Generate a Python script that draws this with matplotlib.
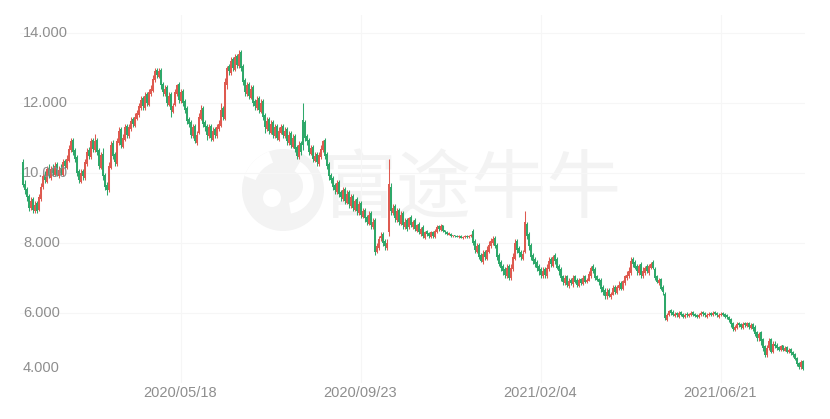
import matplotlib
matplotlib.use("Agg")
import matplotlib.pyplot as plt
import matplotlib.transforms as mtransforms
from matplotlib.patches import Circle, Wedge
import numpy as np

# ---------------- data ----------------
opens = [
    10.30, 9.70, 9.55, 9.35, 9.00, 9.25, 8.90, 9.15, 8.95, 9.25,
    9.60, 9.95, 9.75, 10.15, 9.85, 10.15, 9.95, 10.25, 9.90, 10.15,
    9.95, 10.35, 10.15, 10.35, 10.65, 10.95, 10.65, 10.45, 10.05, 9.75,
    10.05, 9.85, 10.25, 10.65, 10.45, 10.95, 10.65, 10.95, 10.65, 10.15,
    10.55, 9.95, 9.65, 9.50, 10.15, 10.85, 10.55, 10.25, 10.85, 11.25,
    10.75, 10.95, 11.35, 11.05, 11.25, 11.55, 11.35, 11.55, 11.65, 11.85,
    12.15, 11.85, 12.25, 11.95, 12.25, 12.35, 12.65, 12.95, 12.75, 12.95,
    12.55, 12.25, 12.45, 11.95, 12.25, 11.75, 11.95, 12.25, 12.55, 12.05,
    12.35, 12.05, 11.85, 11.55, 11.45, 11.05, 11.35, 10.85, 11.15, 11.55,
    11.85, 11.45, 11.35, 11.05, 11.35, 10.95, 11.25, 11.05, 11.25, 11.35,
    11.85, 11.55, 12.50, 13.05, 12.85, 13.25, 12.95, 13.35, 13.05, 13.45,
    13.05, 12.65, 12.25, 12.55, 12.15, 12.45, 12.05, 11.85, 12.15, 11.75,
    12.05, 11.65, 11.25, 11.55, 11.15, 11.45, 11.05, 11.35, 10.95, 11.15,
    11.35, 11.05, 11.25, 10.85, 11.15, 10.75, 11.05, 10.75, 10.45, 10.85,
    11.50, 11.45, 11.05, 10.95, 10.55, 10.75, 10.35, 10.55, 10.25, 10.45,
    10.65, 10.95, 10.55, 10.25, 9.95, 9.85, 9.65, 9.45, 9.75, 9.45,
    9.25, 9.55, 9.15, 9.45, 9.05, 9.35, 8.95, 9.25, 8.85, 9.15,
    8.75, 8.95, 8.75, 8.55, 8.85, 8.45, 8.65, 7.75, 7.85, 8.15,
    8.25, 8.05, 7.85, 8.30, 9.60, 8.85, 9.05, 8.65, 8.95, 8.55,
    8.85, 8.45, 8.65, 8.45, 8.75, 8.45, 8.65, 8.35, 8.55, 8.25,
    8.45, 8.15, 8.35, 8.28, 8.18, 8.32, 8.18, 8.30, 8.48, 8.38,
    8.50, 8.36, 8.31, 8.24, 8.27, 8.19, 8.23, 8.21, 8.17, 8.21,
    8.14, 8.17, 8.21, 8.16, 8.19, 8.35, 8.05, 7.75, 7.95, 7.65,
    7.45, 7.75, 7.55, 7.75, 7.90, 8.00, 8.15, 7.95, 7.65, 7.45,
    7.35, 7.25, 7.05, 7.35, 7.00, 7.25, 7.55, 8.05, 7.85, 7.75,
    7.55, 7.75, 8.55, 8.25, 7.95, 7.65, 7.55, 7.45, 7.35, 7.25,
    7.05, 7.25, 7.05, 7.25, 7.55, 7.35, 7.65, 7.55, 7.35, 7.25,
    7.05, 6.85, 7.05, 6.78, 6.95, 6.82, 7.05, 6.95, 6.78, 6.98,
    6.82, 7.05, 6.88, 6.92, 7.05, 7.35, 7.25, 7.05, 6.98, 6.95,
    6.75, 6.65, 6.48, 6.65, 6.45, 6.52, 6.75, 6.58, 6.72, 6.85,
    6.68, 6.85, 7.00, 7.05, 7.15, 7.55, 7.45, 7.35, 7.15, 7.40,
    7.05, 7.15, 7.35, 7.15, 7.30, 7.45, 7.25, 7.05, 6.85, 6.98,
    6.75, 6.55, 5.80, 5.95, 6.08, 6.03, 5.92, 6.00, 5.90, 6.02,
    5.97, 5.88, 5.98, 5.91, 5.95, 6.02, 5.98, 5.95, 5.88, 5.94,
    6.03, 5.99, 5.90, 5.94, 6.00, 5.93, 6.03, 5.99, 5.90, 5.94,
    6.00, 5.97, 5.93, 5.90, 5.82, 5.72, 5.52, 5.58, 5.72, 5.68,
    5.58, 5.72, 5.62, 5.72, 5.58, 5.68, 5.60, 5.45, 5.28, 5.45,
    5.25, 5.05, 4.80, 5.00, 5.25, 4.88, 5.12, 5.08, 5.02, 4.93,
    5.08, 4.92, 5.02, 4.88, 4.98, 4.88, 4.82, 4.72, 4.58, 4.45,
    4.62,
]

highs = [
    10.40, 9.80, 9.60, 9.40, 9.30, 9.30, 9.20, 9.20, 9.40, 9.70,
    10.00, 10.05, 10.20, 10.25, 10.20, 10.25, 10.30, 10.30, 10.20, 10.25,
    10.40, 10.40, 10.50, 10.80, 11.00, 11.00, 10.70, 10.50, 10.10, 10.10,
    10.10, 10.40, 10.70, 10.75, 11.00, 11.00, 11.10, 11.00, 10.70, 10.60,
    10.70, 10.00, 9.75, 10.30, 10.90, 10.95, 10.60, 11.00, 11.30, 11.30,
    11.10, 11.40, 11.40, 11.40, 11.60, 11.60, 11.70, 11.80, 12.00, 12.20,
    12.20, 12.30, 12.30, 12.40, 12.50, 12.80, 13.00, 13.00, 13.00, 13.00,
    12.60, 12.50, 12.50, 12.30, 12.30, 12.00, 12.40, 12.55, 12.60, 12.40,
    12.40, 12.10, 11.90, 11.60, 11.50, 11.40, 11.40, 11.20, 11.70, 11.95,
    11.90, 11.50, 11.40, 11.40, 11.40, 11.30, 11.30, 11.40, 11.50, 12.00,
    11.90, 12.70, 13.05, 13.10, 13.30, 13.30, 13.40, 13.40, 13.50, 13.50,
    13.10, 12.70, 12.60, 12.60, 12.50, 12.50, 12.10, 12.20, 12.20, 12.10,
    12.10, 11.70, 11.60, 11.60, 11.50, 11.50, 11.40, 11.40, 11.30, 11.40,
    11.40, 11.30, 11.30, 11.20, 11.20, 11.10, 11.10, 10.80, 10.90, 10.90,
    12.00, 11.50, 11.10, 11.00, 10.80, 10.80, 10.60, 10.60, 10.60, 10.80,
    10.95, 11.00, 10.60, 10.30, 10.00, 9.90, 9.70, 9.80, 9.80, 9.50,
    9.60, 9.60, 9.50, 9.50, 9.40, 9.40, 9.25, 9.30, 9.20, 9.20,
    9.00, 9.00, 8.80, 8.90, 8.90, 8.70, 8.70, 8.00, 8.20, 8.30,
    8.30, 8.10, 8.10, 10.40, 9.70, 9.10, 9.10, 9.00, 9.00, 8.90,
    8.90, 8.70, 8.70, 8.75, 8.80, 8.65, 8.70, 8.55, 8.60, 8.45,
    8.50, 8.35, 8.38, 8.30, 8.35, 8.35, 8.40, 8.50, 8.52, 8.55,
    8.52, 8.38, 8.33, 8.30, 8.28, 8.24, 8.24, 8.22, 8.22, 8.22,
    8.20, 8.22, 8.22, 8.22, 8.25, 8.40, 8.10, 8.00, 8.00, 7.70,
    7.80, 7.80, 7.90, 8.05, 8.15, 8.20, 8.20, 8.00, 7.70, 7.50,
    7.40, 7.30, 7.40, 7.40, 7.40, 7.70, 8.10, 8.10, 7.90, 7.80,
    7.80, 8.90, 8.60, 8.30, 8.00, 7.70, 7.60, 7.50, 7.40, 7.30,
    7.30, 7.30, 7.40, 7.60, 7.60, 7.65, 7.70, 7.60, 7.40, 7.30,
    7.10, 7.10, 7.10, 7.00, 7.00, 7.10, 7.10, 7.00, 7.00, 7.00,
    7.10, 7.10, 7.00, 7.20, 7.35, 7.40, 7.30, 7.10, 7.00, 7.00,
    6.80, 6.70, 6.70, 6.70, 6.60, 6.80, 6.80, 6.80, 6.90, 6.90,
    6.95, 7.10, 7.20, 7.30, 7.60, 7.60, 7.50, 7.40, 7.40, 7.45,
    7.30, 7.35, 7.40, 7.40, 7.45, 7.50, 7.30, 7.10, 7.00, 7.00,
    6.80, 6.60, 6.00, 6.10, 6.12, 6.08, 6.02, 6.03, 6.05, 6.05,
    6.00, 6.00, 6.02, 6.00, 6.05, 6.05, 6.00, 5.98, 6.00, 6.05,
    6.05, 6.02, 6.00, 6.02, 6.03, 6.05, 6.06, 6.02, 6.00, 6.02,
    6.03, 6.00, 5.96, 5.92, 5.85, 5.75, 5.65, 5.75, 5.75, 5.70,
    5.75, 5.75, 5.75, 5.75, 5.70, 5.70, 5.65, 5.50, 5.45, 5.50,
    5.30, 5.10, 5.10, 5.30, 5.30, 5.20, 5.20, 5.15, 5.05, 5.10,
    5.10, 5.05, 5.05, 5.00, 5.00, 4.92, 4.85, 4.75, 4.60, 4.65,
    4.65,
]

lows = [
    9.60, 9.40, 9.20, 8.90, 8.95, 8.85, 8.85, 8.85, 8.90, 9.20,
    9.55, 9.70, 9.70, 9.85, 9.80, 9.90, 9.90, 9.90, 9.85, 9.95,
    9.90, 10.10, 10.10, 10.30, 10.60, 10.50, 10.30, 9.90, 9.70, 9.70,
    9.80, 9.80, 10.20, 10.40, 10.40, 10.60, 10.60, 10.50, 10.10, 10.10,
    9.80, 9.50, 9.37, 9.45, 10.10, 10.40, 10.20, 10.20, 10.80, 10.70,
    10.70, 10.90, 11.00, 11.00, 11.20, 11.30, 11.30, 11.50, 11.60, 11.80,
    11.80, 11.80, 11.90, 11.90, 12.20, 12.30, 12.60, 12.70, 12.70, 12.40,
    12.20, 12.20, 11.90, 11.90, 11.60, 11.70, 11.90, 12.20, 12.00, 12.00,
    11.90, 11.70, 11.40, 11.30, 11.00, 11.00, 10.85, 10.80, 11.10, 11.50,
    11.30, 11.20, 10.95, 11.00, 10.90, 10.90, 11.00, 11.00, 11.20, 11.30,
    11.50, 11.50, 12.40, 12.80, 12.80, 12.90, 12.90, 13.00, 13.00, 12.90,
    12.50, 12.20, 12.20, 12.10, 12.10, 11.90, 11.80, 11.80, 11.70, 11.70,
    11.50, 11.15, 11.20, 11.10, 11.10, 11.00, 11.00, 10.95, 10.90, 11.10,
    11.00, 11.00, 10.80, 10.80, 10.70, 10.70, 10.60, 10.40, 10.40, 10.50,
    10.65, 10.90, 10.80, 10.50, 10.50, 10.30, 10.30, 10.20, 10.20, 10.40,
    10.60, 10.40, 10.10, 9.80, 9.70, 9.50, 9.40, 9.40, 9.30, 9.20,
    9.20, 9.10, 9.10, 9.00, 9.00, 8.90, 8.90, 8.80, 8.80, 8.70,
    8.70, 8.60, 8.50, 8.50, 8.40, 8.40, 7.65, 7.70, 7.80, 8.05,
    7.90, 7.80, 7.80, 8.20, 8.80, 8.80, 8.60, 8.60, 8.50, 8.50,
    8.40, 8.40, 8.35, 8.40, 8.45, 8.40, 8.35, 8.30, 8.25, 8.20,
    8.15, 8.12, 8.20, 8.15, 8.15, 8.15, 8.15, 8.28, 8.35, 8.35,
    8.32, 8.27, 8.22, 8.22, 8.18, 8.18, 8.18, 8.16, 8.15, 8.13,
    8.12, 8.15, 8.15, 8.15, 8.17, 7.95, 7.70, 7.70, 7.55, 7.45,
    7.40, 7.50, 7.50, 7.70, 7.85, 7.95, 7.85, 7.50, 7.35, 7.20,
    7.10, 7.00, 7.00, 6.95, 6.95, 7.20, 7.50, 7.70, 7.60, 7.50,
    7.50, 7.70, 8.10, 7.80, 7.50, 7.40, 7.30, 7.20, 7.10, 7.00,
    7.00, 7.00, 7.00, 7.20, 7.30, 7.30, 7.40, 7.25, 7.10, 6.90,
    6.80, 6.80, 6.75, 6.70, 6.80, 6.75, 6.85, 6.75, 6.75, 6.80,
    6.80, 6.85, 6.85, 6.90, 7.00, 7.15, 6.95, 6.90, 6.80, 6.60,
    6.50, 6.40, 6.40, 6.45, 6.40, 6.50, 6.55, 6.55, 6.65, 6.65,
    6.65, 6.80, 6.95, 7.00, 7.10, 7.30, 7.25, 7.10, 7.10, 7.00,
    7.00, 7.10, 7.15, 7.10, 7.25, 7.25, 6.95, 6.85, 6.80, 6.65,
    6.50, 5.80, 5.78, 5.90, 5.95, 5.90, 5.88, 5.88, 5.87, 5.90,
    5.85, 5.85, 5.88, 5.88, 5.92, 5.92, 5.88, 5.85, 5.85, 5.90,
    5.92, 5.88, 5.87, 5.90, 5.90, 5.90, 5.93, 5.88, 5.86, 5.90,
    5.90, 5.85, 5.82, 5.75, 5.60, 5.50, 5.50, 5.55, 5.60, 5.55,
    5.55, 5.60, 5.60, 5.55, 5.55, 5.50, 5.35, 5.20, 5.20, 5.10,
    4.90, 4.75, 4.75, 4.95, 4.85, 4.85, 5.00, 4.95, 4.90, 4.90,
    4.90, 4.90, 4.85, 4.85, 4.80, 4.75, 4.65, 4.50, 4.40, 4.40,
    4.37,
]

closes = [
    9.65, 9.50, 9.30, 9.00, 9.20, 8.95, 9.10, 8.90, 9.30, 9.60,
    9.90, 9.80, 10.10, 9.90, 10.10, 10.00, 10.20, 9.95, 10.10, 10.00,
    10.30, 10.20, 10.40, 10.70, 10.90, 10.60, 10.40, 10.00, 9.80, 10.00,
    9.90, 10.30, 10.60, 10.50, 10.90, 10.70, 10.90, 10.60, 10.20, 10.50,
    9.90, 9.60, 9.50, 10.20, 10.80, 10.50, 10.30, 10.90, 11.20, 10.80,
    11.00, 11.30, 11.10, 11.30, 11.50, 11.40, 11.60, 11.70, 11.90, 12.10,
    11.90, 12.20, 12.00, 12.30, 12.40, 12.70, 12.90, 12.80, 12.90, 12.50,
    12.30, 12.40, 12.00, 12.20, 11.80, 11.90, 12.30, 12.50, 12.10, 12.30,
    12.00, 11.80, 11.50, 11.40, 11.10, 11.30, 10.90, 11.10, 11.60, 11.80,
    11.40, 11.30, 11.10, 11.30, 11.00, 11.20, 11.10, 11.30, 11.40, 11.80,
    11.60, 12.60, 13.00, 12.90, 13.20, 13.00, 13.30, 13.10, 13.40, 13.00,
    12.60, 12.30, 12.50, 12.20, 12.40, 12.00, 11.90, 12.10, 11.80, 12.00,
    11.60, 11.30, 11.50, 11.20, 11.40, 11.10, 11.30, 11.00, 11.20, 11.30,
    11.10, 11.20, 10.90, 11.10, 10.80, 11.00, 10.70, 10.50, 10.80, 10.60,
    10.80, 11.00, 10.90, 10.60, 10.70, 10.40, 10.50, 10.30, 10.50, 10.70,
    10.90, 10.50, 10.20, 9.90, 9.80, 9.60, 9.50, 9.70, 9.40, 9.30,
    9.50, 9.20, 9.40, 9.10, 9.30, 9.00, 9.20, 8.90, 9.10, 8.80,
    8.90, 8.70, 8.60, 8.80, 8.50, 8.60, 7.75, 7.90, 8.10, 8.20,
    8.00, 7.90, 8.00, 9.70, 8.90, 9.00, 8.70, 8.90, 8.60, 8.80,
    8.50, 8.60, 8.40, 8.70, 8.50, 8.60, 8.40, 8.50, 8.30, 8.40,
    8.20, 8.30, 8.25, 8.20, 8.30, 8.20, 8.35, 8.45, 8.40, 8.50,
    8.35, 8.30, 8.25, 8.28, 8.20, 8.22, 8.20, 8.18, 8.20, 8.15,
    8.18, 8.20, 8.17, 8.20, 8.22, 8.00, 7.80, 7.90, 7.60, 7.50,
    7.70, 7.60, 7.80, 7.95, 8.05, 8.10, 7.90, 7.60, 7.40, 7.30,
    7.20, 7.10, 7.30, 7.00, 7.30, 7.60, 8.00, 7.80, 7.70, 7.60,
    7.70, 8.60, 8.20, 7.90, 7.60, 7.50, 7.40, 7.30, 7.20, 7.10,
    7.20, 7.10, 7.30, 7.50, 7.40, 7.60, 7.50, 7.30, 7.20, 7.00,
    6.90, 7.00, 6.80, 6.90, 6.85, 7.00, 6.90, 6.80, 6.95, 6.85,
    7.00, 6.90, 6.95, 7.10, 7.30, 7.20, 7.00, 6.95, 6.90, 6.70,
    6.60, 6.50, 6.60, 6.50, 6.55, 6.70, 6.60, 6.75, 6.80, 6.70,
    6.90, 7.05, 7.10, 7.20, 7.50, 7.40, 7.30, 7.20, 7.35, 7.10,
    7.20, 7.30, 7.20, 7.35, 7.40, 7.30, 7.00, 6.90, 6.95, 6.70,
    6.60, 5.85, 5.95, 6.05, 6.00, 5.95, 5.97, 5.93, 6.00, 5.95,
    5.90, 5.95, 5.93, 5.97, 6.00, 5.95, 5.92, 5.90, 5.95, 6.00,
    5.97, 5.93, 5.95, 5.98, 5.95, 6.01, 5.97, 5.93, 5.95, 5.98,
    5.95, 5.90, 5.88, 5.80, 5.70, 5.55, 5.60, 5.70, 5.65, 5.60,
    5.70, 5.65, 5.70, 5.60, 5.65, 5.55, 5.40, 5.30, 5.40, 5.20,
    5.00, 4.80, 5.00, 5.20, 4.90, 5.10, 5.05, 5.00, 4.95, 5.05,
    4.95, 5.00, 4.90, 4.95, 4.85, 4.80, 4.70, 4.55, 4.45, 4.60,
    4.40,
]

# tick positions are trading-day indices of the candles above
x_tick_index = [79, 169, 259, 349]
x_tick_labels = ["2020/05/18", "2020/09/23", "2021/02/04", "2021/06/21"]
y_tick_values = [14, 12, 10, 8, 6, 4]
y_tick_labels = ["14.000", "12.000", "10.000", "8.000", "6.000", "4.000"]

assert len(opens) == len(highs) == len(lows) == len(closes)

# ---------------- styling ----------------
UP = "#de5a50"
DOWN = "#2ea86a"
LABEL = "#8e8e8e"
GRID = "#f6f6f6"
WM = "#f3f3f3"
FONT = ["Liberation Sans", "DejaVu Sans"]

W, H = 830, 419
fig = plt.figure(figsize=(W / 100, H / 100), dpi=100, facecolor="white")

# watermark layer (pixel coordinates)
wm = fig.add_axes([0, 0, 1, 1], zorder=0)
wm.set_xlim(0, W)
wm.set_ylim(H, 0)
wm.set_aspect("equal")
wm.axis("off")
wm.add_patch(Circle((283, 190), 41, color=WM, lw=0))
wm.add_patch(Wedge((286, 186), 28, 300, 80, width=11, color="white", lw=0))
wm.add_patch(Circle((272, 198), 9, color="white", lw=0))
wm.add_patch(Wedge((283, 190), 41, 200, 250, width=12, color="white", lw=0))
wm.text(472, 190, "富途牛牛", fontsize=54, color=WM, fontweight="medium",
        family=["Noto Sans CJK SC", "DejaVu Sans"], ha="center", va="center")

# main chart axes (pixel-aligned: 2 px per trading day)
left_px, right_px, top_px, bottom_px = 20, 805, 15, 383
ax = fig.add_axes([left_px / W, 1 - bottom_px / H,
                   (right_px - left_px) / W, (bottom_px - top_px) / H], zorder=1)
ax.patch.set_alpha(0)

o = np.array(opens)
h = np.array(highs)
l = np.array(lows)
c = np.array(closes)
idx = np.arange(len(c))
up = c >= o
cols = np.where(up, UP, DOWN)

hi = np.maximum(h, np.maximum(o, c))
lo = np.minimum(l, np.minimum(o, c))
ax.vlines(idx, lo, hi, colors=cols, linewidth=0.75, zorder=3)
body_bottom = np.minimum(o, c)
body_h = np.maximum(np.abs(c - o), 0.025)
ax.bar(idx, body_h, bottom=body_bottom, width=0.75, color=cols, linewidth=0, zorder=3)

px_per_day = 2.0
x0 = -(22.5 - left_px) / px_per_day
ax.set_xlim(x0, x0 + (right_px - left_px) / px_per_day)
ax.set_ylim(4.0, 14.0 + 18 / 35)

for s in ax.spines.values():
    s.set_visible(False)
ax.set_xticks([])
ax.set_yticks([])

# faint grid
for v in y_tick_values[:-1]:
    ax.axhline(v, color=GRID, lw=0.8, zorder=1)
for xi in x_tick_index:
    ax.axvline(xi, color=GRID, lw=0.8, zorder=1)

# y labels drawn inside the plot, left aligned
ytrans = mtransforms.blended_transform_factory(ax.transAxes, ax.transData)
for v, lab in zip(y_tick_values, y_tick_labels):
    tr = ytrans
    if v == y_tick_values[-1]:
        tr = ytrans + mtransforms.ScaledTranslation(0, 15 / 100, fig.dpi_scale_trans)
    ax.text(3 / (right_px - left_px), v, lab, transform=tr, ha="left", va="center",
            fontsize=10.5, color=LABEL, family=FONT, zorder=4)

# x labels below the plot
xtrans = mtransforms.blended_transform_factory(ax.transData, ax.transAxes)
for xi, lab in zip(x_tick_index, x_tick_labels):
    ax.text(xi, -10 / (bottom_px - top_px), lab, transform=xtrans, ha="center", va="center",
            fontsize=10.5, color=LABEL, family=FONT, clip_on=False)

fig.savefig("out.png", dpi=100, facecolor="white")
